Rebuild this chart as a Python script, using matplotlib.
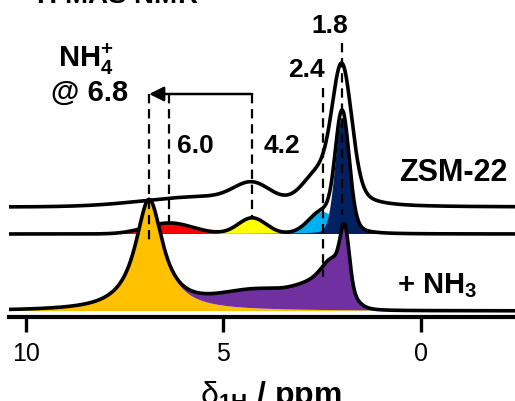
import numpy as np
import matplotlib
matplotlib.use("Agg")
import matplotlib.pyplot as plt

plt.rcParams['font.family'] = ['Liberation Sans', 'DejaVu Sans']
plt.rcParams['mathtext.fontset'] = 'custom'
plt.rcParams['mathtext.rm'] = 'Liberation Sans'
plt.rcParams['mathtext.bf'] = 'Liberation Sans:bold'
plt.rcParams['mathtext.it'] = 'Liberation Sans:italic'
plt.rcParams['mathtext.default'] = 'bf'

# ---------------- data ----------------
# chemical-shift axis (ppm)
ppm = np.linspace(10.8, -2.8, 3000)

# ZSM-22 (top trace): peak centres (ppm), heights, widths, shape (g: sigma, l: FWHM)
top_centers = [5.5, 4.27, 2.6, 1.99, 1.99]
top_heights = [10, 17, 26, 106, 30]
top_widths = [1.5, 0.45, 0.38, 0.24, 0.9]
top_shapes = ['g', 'g', 'g', 'g', 'l']
top_offset = 110

# ZSM-22 deconvolution (middle trace): red, yellow, cyan, navy (navy = two parts)
mid_centers = [6.37, 4.27, 2.48, 1.99, 1.85]
mid_heights = [11, 16, 22, 106, 12]
mid_widths = [0.6, 0.35, 0.35, 0.17, 0.6]
mid_shapes = ['g', 'g', 'g', 'g', 'l']
mid_groups = [0, 1, 2, 3, 3]
mid_colors = ['#FF0000', '#FFFF00', '#00B0F0', '#002060']
mid_offset = 83

# + NH3 (bottom trace): NH4+ component and the remaining (purple) components
nh4_center, nh4_height, nh4_width = 6.88, 111, 0.85
pur_centers = [4.0, 2.6, 2.15, 1.92]
pur_heights = [20, 18, 34, 50]
pur_widths = [1.1, 0.5, 0.3, 0.11]
pur_shapes = ['g', 'g', 'g', 'g']
bot_offset = 6

# marker lines (ppm, intensity from, intensity to)
mark_ppm = [6.88, 6.37, 4.27, 2.48, 1.99]
mark_from = [223, 223, 223, 229, 274]
mark_to = [74, 92, 99, 40, 102]

tick_vals = [10, 5, 0]
tick_labels = ['10', '5', '0']


def peak(x, c, h, w, s):
    if s == 'g':
        return h * np.exp(-(x - c) ** 2 / (2 * w ** 2))
    g = w / 2.0
    return h / (1 + ((x - c) / g) ** 2)


def total(cs, hs, ws, ss):
    return sum(peak(ppm, c, h, w, s) for c, h, w, s in zip(cs, hs, ws, ss))


W, H = 515, 401
fig = plt.figure(figsize=(W / 100, H / 100), dpi=100)
fig.patch.set_facecolor('white')
ax = fig.add_axes([9 / W, 84 / H, 506 / W, 317 / H])
ax.set_xlim(10.43, -2.39)
ax.set_ylim(0, 317)
ax.patch.set_alpha(0)

lw = 2.6

# top trace
top = top_offset + total(top_centers, top_heights, top_widths, top_shapes)
ax.fill_between(ppm, top_offset, top, color='white', lw=0, zorder=1)
ax.plot(ppm, top, color='k', lw=lw, zorder=2)

# middle trace
comps = [np.zeros_like(ppm) for _ in mid_colors]
for c, h, w, s, g in zip(mid_centers, mid_heights, mid_widths, mid_shapes, mid_groups):
    comps[g] = comps[g] + peak(ppm, c, h, w, s)
mid_env = mid_offset + sum(comps)
for comp, col in zip(comps, mid_colors):
    ax.fill_between(ppm, mid_offset, mid_offset + comp, color=col, lw=0, zorder=3)
ax.plot(ppm, mid_env, color='k', lw=lw, zorder=4)

# bottom trace
nh4 = peak(ppm, nh4_center, nh4_height, nh4_width, 'l')
pur = total(pur_centers, pur_heights, pur_widths, pur_shapes)
ax.fill_between(ppm, bot_offset, bot_offset + nh4, color='#FFC000', lw=0, zorder=5)
ax.fill_between(ppm, bot_offset + nh4, bot_offset + nh4 + pur, color='#7030A0', lw=0, zorder=5)
ax.plot(ppm, bot_offset + nh4 + pur, color='k', lw=lw, zorder=6)

# dashed marker lines
for xm, y0, y1 in zip(mark_ppm, mark_from, mark_to):
    ax.plot([xm, xm], [y0, y1], color='k', lw=1.6, ls=(0, (4.2, 2.6)), zorder=7)

# arrow
ax.annotate('', xy=(mark_ppm[0], 223), xytext=(mark_ppm[2], 223),
            arrowprops=dict(arrowstyle='-|>', lw=1.8, color='k', mutation_scale=22,
                            shrinkA=0, shrinkB=0), zorder=8)

# axes styling
for sp in ['left', 'right', 'top']:
    ax.spines[sp].set_visible(False)
ax.spines['bottom'].set_linewidth(3)
ax.set_yticks([])
ax.set_xticks(tick_vals)
ax.set_xticklabels(tick_labels)
ax.tick_params(axis='x', direction='out', length=11, width=2.4, pad=7, labelsize=18)


def ftext(x, y, s, size, ha='center', weight='bold'):
    fig.text(x / W, 1 - y / H, s, ha=ha, va='baseline', fontsize=size,
             fontweight=weight, zorder=10)


ftext(25, 4, r'$^{1}$H MAS NMR', 20, ha='left')
ftext(330, 33, '1.8', 19)
ftext(306, 77, '2.4', 19)
ftext(282, 153, '4.2', 19)
ftext(195, 153, '6.0', 19)
ftext(453, 181, 'ZSM-22', 22)
ftext(397, 293, r'+ NH$_{3}$', 21, ha='left')
ftext(58, 67, r'NH$_{4}^{+}$', 21, ha='left')
ftext(90, 101, '@ 6.8', 21)
ftext(200, 404, r'$\mathrm{\delta}_{1H}$ / ppm', 23, ha='left')

fig.savefig('out.png', dpi=100)
